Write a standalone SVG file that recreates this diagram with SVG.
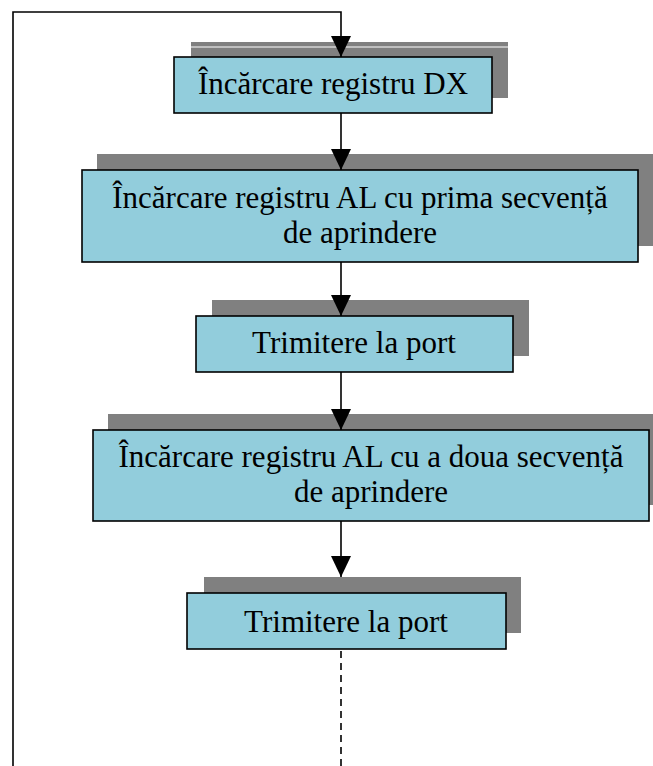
<svg xmlns="http://www.w3.org/2000/svg" width="653" height="766" viewBox="0 0 653 766">
<style>
.sh{fill:#808080}
.bx{fill:#92CDDC;stroke:#000;stroke-width:1.6}
.t{font-family:"Liberation Serif","Times New Roman",serif;font-size:31px;fill:#000;text-anchor:middle}
.ln{stroke:#000;stroke-width:1.6;fill:none}
</style>
<defs>
<marker id="ah" viewBox="0 0 21 20" refX="21" refY="10" markerWidth="21" markerHeight="20" markerUnits="userSpaceOnUse" orient="auto">
<path d="M0,0 L21,10 L0,20 z" fill="#000"/>
</marker>
</defs>
<rect width="653" height="766" fill="#fff"/>
<g id="n1">
<rect class="sh" x="191" y="42" width="317" height="56"/>
<line x1="191" y1="47" x2="508" y2="47" stroke="#fff" stroke-width="1"/>
<rect class="bx" x="174" y="57" width="318" height="56"/>
<text class="t" x="333" y="94">Încărcare registru DX</text>
</g>
<g id="n2">
<rect class="sh" x="97" y="154" width="556" height="92"/>
<rect class="bx" x="82" y="170" width="556" height="92"/>
<text class="t" x="360" y="208">Încărcare registru AL cu prima secvență</text>
<text class="t" x="360" y="243">de aprindere</text>
</g>
<g id="n3">
<rect class="sh" x="212" y="300" width="317" height="56"/>
<rect class="bx" x="196" y="316" width="317" height="56"/>
<text class="t" x="354" y="353">Trimitere la port</text>
</g>
<g id="n4">
<rect class="sh" x="108" y="414" width="556" height="91"/>
<rect class="bx" x="93" y="430" width="556" height="91"/>
<text class="t" x="371" y="467">Încărcare registru AL cu a doua secvență</text>
<text class="t" x="371" y="502">de aprindere</text>
</g>
<g id="n5">
<rect class="sh" x="204" y="577" width="317" height="56"/>
<rect class="bx" x="187" y="593" width="319" height="56"/>
<text class="t" x="346" y="632">Trimitere la port</text>
</g>
<g id="connectors">
<polyline class="ln" points="13,766 13,12 341,12 341,57" marker-end="url(#ah)"/>
<line class="ln" x1="341" y1="113" x2="341" y2="170" marker-end="url(#ah)"/>
<line class="ln" x1="341" y1="262" x2="341" y2="316" marker-end="url(#ah)"/>
<line class="ln" x1="341" y1="372" x2="341" y2="430" marker-end="url(#ah)"/>
<line class="ln" x1="341" y1="521" x2="341" y2="577" marker-end="url(#ah)"/>
<line class="ln" x1="341" y1="651" x2="341" y2="766" stroke-dasharray="7,5"/>
</g>
</svg>
